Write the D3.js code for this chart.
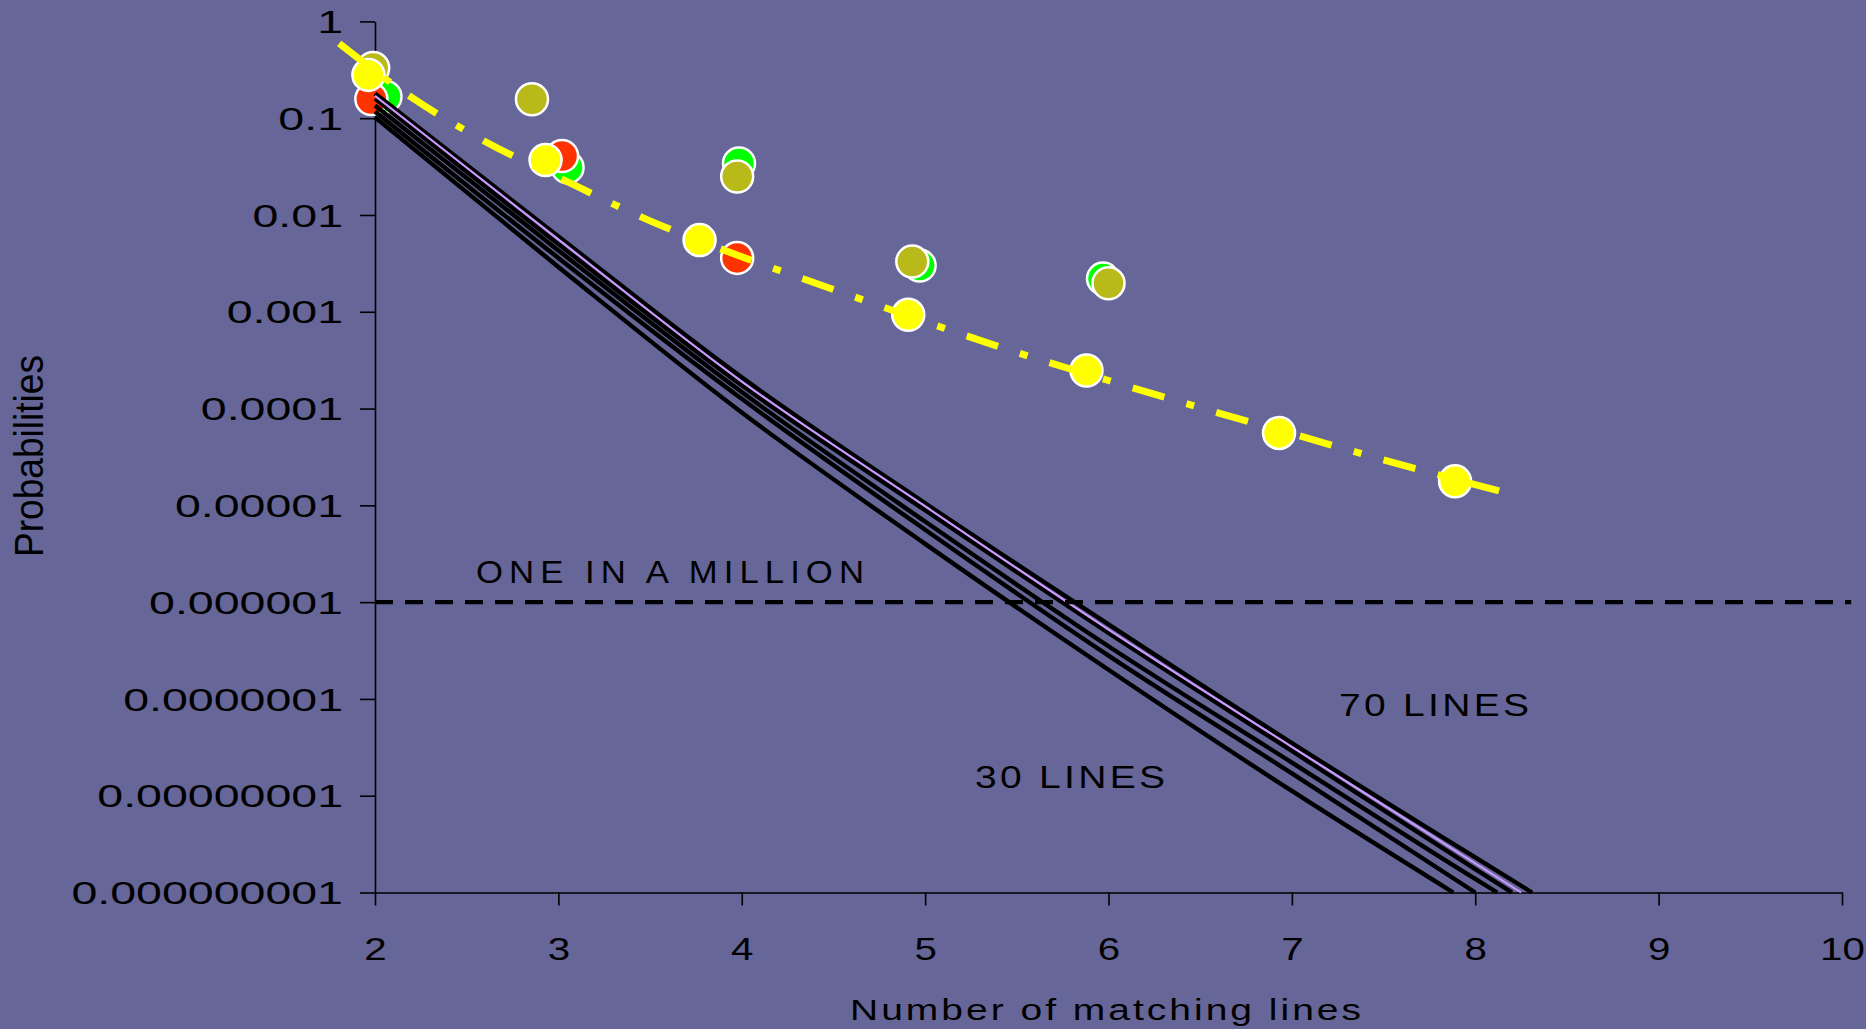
<!DOCTYPE html>
<html>
<head>
<meta charset="utf-8">
<script src="https://d3js.org/d3.v7.min.js"></script>
<style>
  html, body { margin: 0; padding: 0; background: #666699; }
  svg { display: block; }
  text { font-family: "Liberation Sans", Arial, sans-serif; fill: #000; }
</style>
</head>
<body>
<svg id="chart" width="1866" height="1029"></svg>
<script>
// ---------- data ----------
const xTicks = [2, 3, 4, 5, 6, 7, 8, 9, 10];
const yTicks = [1, 1e-1, 1e-2, 1e-3, 1e-4, 1e-5, 1e-6, 1e-7, 1e-8, 1e-9];
const yTickLabels = ["1", "0.1", "0.01", "0.001", "0.0001", "0.00001", "0.000001",
                     "0.0000001", "0.00000001", "0.000000001"];

// theoretical curves (black) for 30..70 lines, and one lavender curve
const line30X = [2, 3, 4, 5, 6, 7, 7.88];
const line30Y = [1.02e-1, 2.9e-3, 9.1e-5, 4.0e-6, 2.0e-7, 1.12e-8, 1e-9];
const line40X = [2, 3, 4, 5, 6, 7, 8.0];
const line40Y = [1.17e-1, 3.6e-3, 1.26e-4, 5.6e-6, 2.8e-7, 1.7e-8, 1e-9];
const line50X = [2, 3, 4, 5, 6, 7, 8, 8.12];
const line50Y = [1.35e-1, 4.3e-3, 1.48e-4, 6.8e-6, 3.5e-7, 2.2e-8, 1.38e-9, 1e-9];
const line60X = [2, 3, 4, 5, 6, 7, 8, 8.20];
const line60Y = [1.6e-1, 5.0e-3, 1.74e-4, 8.9e-6, 4.8e-7, 2.9e-8, 1.74e-9, 1e-9];
const lineLavX = [2, 3, 4, 5, 6, 7, 8, 8.25];
const lineLavY = [1.7e-1, 5.6e-3, 1.9e-4, 9.8e-6, 5.2e-7, 3.2e-8, 2.0e-9, 1e-9];
const line70X = [2, 3, 4, 5, 6, 7, 8, 8.31];
const line70Y = [1.8e-1, 6.0e-3, 2.1e-4, 1.05e-5, 5.9e-7, 3.5e-8, 2.3e-9, 1e-9];

// observed points
const greenX = [2.057, 3.05, 3.985, 4.97, 5.97];
const greenY = [0.167, 0.031, 0.034, 0.0030, 0.0022];
const redX = [1.98, 3.02, 3.975];
const redY = [0.158, 0.0407, 0.0036];
const oliveX = [1.99, 2.856, 3.975, 4.93, 6.0];
const oliveY = [0.33, 0.157, 0.025, 0.0033, 0.00197];
const yellowX = [1.964, 2.93, 3.77, 4.908, 5.88, 6.93, 7.89];
const yellowY = [0.28, 0.037, 0.0055, 0.00093, 0.000247, 5.6e-5, 1.77e-5];

// yellow dash-dot trend line
const trendX = [1.805, 2.2, 2.6, 3.0, 3.5, 4.0, 4.5, 5.0, 5.5, 6.0, 6.5, 7.0, 7.5, 8.13];
const trendY = [0.593, 0.164, 0.0575, 0.0245, 0.0087, 0.0037, 0.0017, 0.00079,
                0.00038, 0.000195, 0.000102, 5.5e-5, 2.95e-5, 1.41e-5];

// one-in-a-million reference
const millionX = [2, 10.05];
const millionY = [1e-6, 1e-6];

// ---------- drawing ----------
const svg = d3.select("#chart");
const x = d3.scaleLinear().domain([2, 10]).range([375, 1842]);
const y = d3.scaleLog().domain([1e-9, 1]).range([892.5, 21.4]);

function stretch(sel, k) {
  sel.each(function () {
    const w = this.getComputedTextLength();
    this.setAttribute("textLength", w * k);
    this.setAttribute("lengthAdjust", "spacingAndGlyphs");
  });
}

// axes
const yAxis = svg.append("g").attr("transform", `translate(${x(2)},0)`)
  .call(d3.axisLeft(y).tickValues(yTicks).tickFormat((d, i) => yTickLabels[i])
        .tickSize(15).tickSizeOuter(0).tickPadding(17));
const xAxis = svg.append("g").attr("transform", `translate(0,${y(1e-9)})`)
  .call(d3.axisBottom(x).tickValues(xTicks).tickFormat(d3.format("d"))
        .tickSize(13).tickSizeOuter(0).tickPadding(32));

[yAxis, xAxis].forEach(a => {
  a.select(".domain").attr("stroke", "#000").attr("stroke-width", 1.6);
  a.selectAll(".tick line").attr("stroke", "#000").attr("stroke-width", 1.6);
  a.selectAll(".tick text").attr("font-size", 31).attr("fill", "#000")
    .attr("font-family", '"Liberation Sans", Arial, sans-serif');
});
yAxis.selectAll(".tick text").attr("dy", "0.36em");
xAxis.selectAll(".tick text").attr("dy", "0.71em");
stretch(yAxis.selectAll(".tick text"), 1.5);
stretch(xAxis.selectAll(".tick text"), 1.3);

const pts = (xs, ys) => xs.map((d, i) => [d, ys[i]]);

// markers
function drawPoints(xs, ys, color) {
  svg.append("g").selectAll("circle").data(pts(xs, ys)).join("circle")
    .attr("cx", d => x(d[0])).attr("cy", d => y(d[1])).attr("r", 16)
    .attr("fill", color).attr("stroke", "#fff").attr("stroke-width", 2.5);
}
drawPoints(greenX, greenY, "#00ff00");
drawPoints(redX, redY, "#ff3300");
drawPoints(oliveX, oliveY, "#b9b91a");
drawPoints(yellowX, yellowY, "#ffff00");

// theoretical curves
const lineGen = d3.line().x(d => x(d[0])).y(d => y(d[1])).curve(d3.curveMonotoneX);
[[line30X, line30Y], [line40X, line40Y], [line50X, line50Y], [line60X, line60Y], [line70X, line70Y]]
  .forEach(([xs, ys]) => {
    svg.append("path").datum(pts(xs, ys)).attr("d", lineGen)
      .attr("fill", "none").attr("stroke", "#000").attr("stroke-width", 4.4);
  });
svg.append("path").datum(pts(lineLavX, lineLavY)).attr("d", lineGen)
  .attr("fill", "none").attr("stroke", "#cc99ff").attr("stroke-width", 2);

// yellow trend line
svg.append("path").datum(pts(trendX, trendY)).attr("d", lineGen)
  .attr("fill", "none").attr("stroke", "#ffff00").attr("stroke-width", 7)
  .attr("stroke-dasharray", "33,23,8,23");

// one in a million line
svg.append("path").datum(pts(millionX, millionY))
  .attr("d", d3.line().x(d => x(d[0])).y(d => y(d[1])))
  .attr("fill", "none").attr("stroke", "#000").attr("stroke-width", 4.3)
  .attr("stroke-dasharray", "18,12");

// annotations: slightly widened glyphs plus letter spacing
function label(txt, x0, base, size, len, k) {
  svg.append("g").attr("transform", `translate(${x0},${base}) scale(${k},1)`)
    .append("text").attr("x", 0).attr("y", 0).attr("font-size", size)
    .attr("textLength", len / k).attr("lengthAdjust", "spacing").text(txt);
}
label("ONE IN A MILLION", 476, 583, 31, 388, 1.12);
label("70 LINES", 1339, 716, 32, 190, 1.22);
label("30 LINES", 975, 788, 32, 190, 1.22);
label("Number of matching lines", 850, 1020, 30, 511, 1.3);

svg.append("text")
  .attr("transform", "translate(43,557) rotate(-90) scale(1,1.37)")
  .attr("font-size", 30).attr("textLength", 202).attr("lengthAdjust", "spacingAndGlyphs")
  .text("Probabilities");
</script>
</body>
</html>
